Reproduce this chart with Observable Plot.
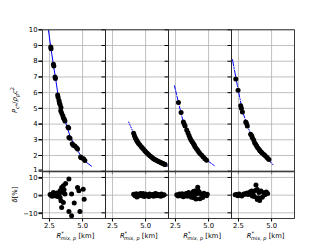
<!DOCTYPE html>
<html>
<head>
<meta charset="utf-8">
<script src="https://cdn.jsdelivr.net/npm/d3@7"></script>
<script src="https://cdn.jsdelivr.net/npm/@observablehq/plot@0.6"></script>
<style>
  html, body { margin: 0; padding: 0; background: #fff; }
  #chart { position: relative; width: 327px; height: 245px; font-family: "DejaVu Sans", sans-serif; }
  #chart svg { display: block; overflow: visible; }
</style>
</head>
<body>
<div id="chart"></div>
<script>
// ---------- data ----------
const panels = ["A", "B", "C", "D"];
const xTicks = [2.5, 5.0];
const yTicks = [1, 2, 3, 4, 5, 6, 7, 8, 9, 10];
const dTicks = [-10, 0, 10];
const dashes = [null, "1,1.6", "3.7,1.6", "6.4,1.6,1,1.6"];

// fitted curves (R*, P)
const curveA_R = [2.425, 2.6, 2.8, 2.97, 3.175, 3.42, 3.72, 4.05, 4.42, 4.8, 5.17, 5.67];
const curveA_P = [9.96, 8.89, 7.76, 6.86, 5.69, 4.73, 4.09, 3.24, 2.6, 2.07, 1.64, 1.32];
const curveB_R = [3.72, 4.1, 4.47, 4.98, 5.48, 5.97, 6.65];
const curveB_P = [4.13, 3.41, 2.81, 2.28, 1.85, 1.57, 1.32];
const curveC_R = [2.425, 2.725, 3.1, 3.475, 3.975, 4.475, 4.975, 5.425];
const curveC_P = [6.44, 5.37, 4.09, 3.24, 2.49, 1.96, 1.64, 1.36];
const curveD_R = [2.05, 2.42, 2.8, 3.17, 3.67, 4.17, 4.67, 5.17];
const curveD_P = [8.1, 6.44, 4.84, 3.88, 2.92, 2.28, 1.79, 1.36];

// data points (R*, P)
const ptsA_R = [2.6, 2.62, 2.8, 2.83, 2.92, 2.95, 3.12, 3.15, 3.22, 3.25, 3.3, 3.37, 3.35, 3.42, 3.5, 3.55, 3.62, 3.67, 3.9, 3.95, 3.97, 4.05, 4.22, 4.3, 4.42, 4.55, 4.62, 4.85, 4.9, 5.07, 5.17];
const ptsA_P = [8.9, 8.8, 7.8, 7.7, 7.0, 6.9, 5.85, 5.7, 5.5, 5.35, 5.25, 5.05, 4.85, 4.7, 4.55, 4.4, 4.3, 4.2, 3.8, 3.75, 3.15, 3.1, 2.75, 2.65, 2.6, 2.5, 2.42, 1.9, 1.85, 1.8, 1.68];
const ptsB_R = [4.1, 4.16, 4.225, 4.29, 4.35, 4.41, 4.475, 4.57, 4.675, 4.76, 4.85, 4.94, 5.025, 5.12, 5.225, 5.32, 5.425, 5.51, 5.6, 5.69, 5.775, 5.88, 5.975, 6.07, 6.175, 6.26, 6.35, 6.42, 6.475];
const ptsB_P = [3.41, 3.26, 3.13, 3.02, 2.92, 2.84, 2.77, 2.66, 2.56, 2.47, 2.39, 2.3, 2.22, 2.14, 2.07, 1.99, 1.92, 1.85, 1.79, 1.75, 1.71, 1.66, 1.62, 1.58, 1.54, 1.51, 1.48, 1.45, 1.43];
const ptsC_R = [2.725, 2.925, 3.1, 3.16, 3.225, 3.35, 3.44, 3.525, 3.6, 3.675, 3.76, 3.85, 3.92, 3.975, 4.07, 4.175, 4.26, 4.35, 4.48, 4.6, 4.72, 4.85];
const ptsC_P = [5.37, 4.73, 4.13, 4.0, 3.88, 3.62, 3.45, 3.27, 3.12, 2.98, 2.87, 2.77, 2.66, 2.56, 2.45, 2.34, 2.22, 2.13, 2.02, 1.91, 1.8, 1.7];
const ptsD_R = [2.3, 2.47, 2.67, 2.72, 2.8, 3.05, 3.1, 3.17, 3.42, 3.5, 3.55, 3.65, 3.72, 3.8, 3.87, 3.95, 4.05, 4.12, 4.22, 4.3, 4.42, 4.5, 4.62, 4.7, 4.8];
const ptsD_P = [6.87, 6.16, 5.16, 5.0, 4.77, 4.13, 4.05, 3.88, 3.35, 3.25, 3.13, 2.98, 2.81, 2.72, 2.6, 2.5, 2.39, 2.3, 2.22, 2.15, 2.07, 2.0, 1.9, 1.83, 1.75];

// residuals (R*, delta %)
const resA_R = [2.55, 2.62, 2.7, 2.8, 2.85, 2.92, 2.97, 3.05, 3.1, 3.2, 3.3, 3.3, 3.37, 3.42, 3.42, 3.5, 3.55, 3.55, 3.6, 3.67, 3.72, 3.97, 3.97, 4.17, 4.17, 4.37, 4.62, 4.72, 4.8, 5.05, 5.12];
const resA_D = [0.3, 0, -0.6, 1.5, 0.4, -0.4, 0.8, 1.2, -0.8, 0.2, 2.5, -1.3, -3.2, 4.3, -7, 1.5, 5.3, -4.2, 3.0, 0.6, 6.6, 9.1, -9.2, 0.6, -11.7, -4.5, 4.3, 2.5, -9.2, 3.4, -2.3];
const resB_R = [4.1, 4.2, 4.3, 4.4, 4.5, 4.6, 4.7, 4.8, 4.9, 5.0, 5.1, 5.2, 5.3, 5.4, 5.5, 5.6, 5.7, 5.8, 5.9, 6.0, 6.1, 6.2, 6.3, 6.4, 4.35, 4.8, 5.25, 5.75, 6.15];
const resB_D = [0.5, -0.3, 0.8, -0.6, 0.2, 0.9, -0.4, 0.3, -0.7, 0.6, 0.1, -0.5, 0.7, -0.2, 0.4, -0.6, 0.6, -0.3, 0.5, -0.4, 0.3, 0.7, -0.2, 0.2, -1.0, 0.9, -0.8, 0.9, -0.6];
const resC_R = [2.6, 2.7, 2.8, 2.9, 3.0, 3.1, 3.2, 3.3, 3.4, 3.5, 3.6, 3.7, 3.8, 3.85, 3.9, 4.0, 4.05, 4.1, 4.18, 4.2, 4.3, 4.35, 4.45, 4.55, 4.65, 4.75, 4.85, 4.9, 3.45, 3.95];
const resC_D = [0.2, -0.5, 0.6, -0.3, 0.8, -0.9, 0.4, 1.0, -0.6, 1.5, 0.3, -1.2, 0.9, 2.0, -1.5, 1.2, -2.2, 0.6, 4.5, 2.6, 1.8, -2.0, 0.5, -1.3, 1.1, 0.2, -0.4, 0.5, 1.1, 2.3];
const resD_R = [2.25, 2.35, 2.45, 2.55, 2.65, 2.75, 2.85, 2.95, 3.05, 3.15, 3.25, 3.35, 3.4, 3.5, 3.6, 3.7, 3.78, 3.82, 3.92, 3.92, 4.0, 4.05, 4.1, 4.2, 4.3, 4.4, 4.5, 4.6, 4.7, 3.55];
const resD_D = [0.2, 0.4, -0.3, 0.6, 0, -0.5, 0.3, 0.8, 0.5, 1.2, 0.4, 1.3, 1.9, 2.3, 0.6, -0.8, 2.6, 5.7, 3.2, -2.5, -1.5, 1.5, -3.0, 2.3, -1.2, 1.3, 0.2, 1.8, 0.9, -0.5];

// ---------- tables ----------
const curveR = [curveA_R, curveB_R, curveC_R, curveD_R];
const curveP = [curveA_P, curveB_P, curveC_P, curveD_P];
const ptsR = [ptsA_R, ptsB_R, ptsC_R, ptsD_R];
const ptsP = [ptsA_P, ptsB_P, ptsC_P, ptsD_P];
const resR = [resA_R, resB_R, resC_R, resD_R];
const resD = [resA_D, resB_D, resC_D, resD_D];

const curves = panels.map((p, i) => curveR[i].map((r, j) => ({panel: p, r, v: curveP[i][j]})));
const points = panels.flatMap((p, i) => ptsR[i].map((r, j) => ({panel: p, r, v: ptsP[i][j]})));
const resid = panels.flatMap((p, i) => resR[i].map((r, j) => ({panel: p, r, v: resD[i][j]})));

// ---------- layout ----------
const W = 327;
const mL = 40.7, mR = 32.7;
const xDomain = [1.975, 6.73];
const gridColor = "#b0b0b0";
const fs = 6.8;
const common = {
  width: W,
  marginLeft: mL,
  marginRight: mR,
  style: {fontFamily: "DejaVu Sans, sans-serif", fontSize: fs + "px", background: "transparent", color: "#000"},
  fx: {domain: panels, padding: 0, axis: null, label: null},
  x: {domain: xDomain, label: null}
};
const noLbl = () => "";

const mainPlot = Plot.plot({
  ...common,
  height: 171,
  marginTop: 29.3,
  marginBottom: 0.3,
  y: {domain: [1, 10], label: null},
  marks: [
    Plot.gridX(xTicks, {stroke: gridColor, strokeOpacity: 1, strokeWidth: 0.8, facetAnchor: null}),
    Plot.gridY(yTicks, {stroke: gridColor, strokeOpacity: 1, strokeWidth: 0.8, facetAnchor: null}),
    ...curves.map((c, i) => Plot.line(c, {x: "r", y: "v", fx: "panel", stroke: "#0000ff", strokeWidth: 1, strokeDasharray: dashes[i]})),
    Plot.dot(points, {x: "r", y: "v", fx: "panel", r: 2.5, fill: "#000", stroke: "none"}),
    Plot.axisY(yTicks, {anchor: "left", facetAnchor: null, tickFormat: noLbl, tickSize: 3.5, label: null}),
    Plot.axisY(yTicks.slice(1), {anchor: "left", facetAnchor: "left", tickSize: 3.5, tickPadding: 1.5, label: null, fontSize: fs}),
    Plot.axisY(yTicks.slice(0, 1), {anchor: "left", facetAnchor: "left", tickSize: 3.5, tickPadding: 1.5, label: null, fontSize: fs, dy: -1.2}),
    Plot.axisX(xTicks, {anchor: "bottom", facetAnchor: null, tickFormat: noLbl, tickSize: 3.5, label: null}),
    Plot.frame({stroke: "#262626", strokeWidth: 0.9})
  ]
});

const resPlot = Plot.plot({
  ...common,
  height: 74,
  marginTop: 0.3,
  marginBottom: 27,
  y: {domain: [-13.2, 13.2], label: null},
  marks: [
    Plot.gridX(xTicks, {stroke: gridColor, strokeOpacity: 1, strokeWidth: 0.8, facetAnchor: null}),
    Plot.gridY(dTicks, {stroke: gridColor, strokeOpacity: 1, strokeWidth: 0.8, facetAnchor: null}),
    Plot.dot(resid, {x: "r", y: "v", fx: "panel", r: 2.5, fill: "#000", stroke: "none"}),
    Plot.axisY(dTicks, {anchor: "left", facetAnchor: null, tickFormat: noLbl, tickSize: 3.5, label: null}),
    Plot.axisY(dTicks, {anchor: "left", facetAnchor: "left", tickSize: 3.5, tickPadding: 1.5, label: null, fontSize: fs, dy: 0.8, tickFormat: d => d < 0 ? "\u2212" + Math.abs(d) : String(d)}),
    Plot.axisX(xTicks, {anchor: "bottom", facetAnchor: null, tickSize: 3.5, tickPadding: 1.5, label: null, fontSize: fs, tickFormat: d => d.toFixed(1)}),
    Plot.frame({stroke: "#262626", strokeWidth: 0.9})
  ]
});

const root = document.getElementById("chart");
root.appendChild(mainPlot);
root.appendChild(resPlot);

// ---------- axis titles (real text with sub/superscripts) ----------
const panelW = (W - mL - mR) / panels.length;
const sb = d3.select(resPlot);
panels.forEach((p, i) => {
  const cx = mL + panelW * (i + 0.5);
  const t = sb.append("text")
    .attr("x", cx + 3).attr("y", 66.5)
    .attr("text-anchor", "middle")
    .attr("font-size", fs).attr("font-family", "DejaVu Sans, sans-serif").attr("fill", "#000");
  t.append("tspan").attr("font-style", "italic").text("R");
  t.append("tspan").attr("font-size", 5).attr("dy", -3).text("*");
  t.append("tspan").attr("font-size", 5).attr("font-style", "italic").attr("dx", -3).attr("dy", 5).text("mix, p");
  t.append("tspan").attr("dy", -2).text(" [km]");
});
const dl = sb.append("text")
  .attr("transform", "translate(17,23.5) rotate(-90)")
  .attr("text-anchor", "middle")
  .attr("font-size", fs).attr("font-family", "DejaVu Sans, sans-serif").attr("fill", "#000");
dl.append("tspan").attr("font-style", "italic").text("δ");
dl.append("tspan").text("[%]");

const st = d3.select(mainPlot);
const pl = st.append("text")
  .attr("transform", "translate(17,100) rotate(-90)")
  .attr("text-anchor", "middle")
  .attr("font-size", fs).attr("font-family", "DejaVu Sans, sans-serif").attr("fill", "#000");
pl.append("tspan").attr("font-style", "italic").text("P");
pl.append("tspan").attr("font-size", 5).attr("font-style", "italic").attr("dy", 2).text("c*");
pl.append("tspan").attr("dy", -2).text("/");
pl.append("tspan").attr("font-style", "italic").text("ρ");
pl.append("tspan").attr("font-size", 5).attr("font-style", "italic").attr("dy", 2).text("p");
pl.append("tspan").attr("font-style", "italic").attr("dy", -2).text("c");
pl.append("tspan").attr("font-size", 5).attr("dy", -3).text("2");
</script>
</body>
</html>
